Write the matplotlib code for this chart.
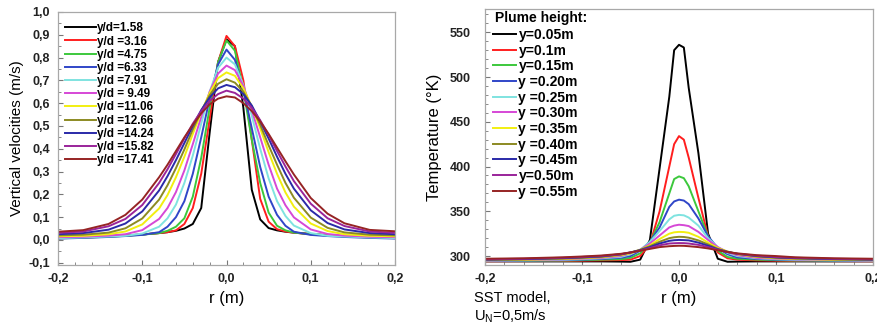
import matplotlib
matplotlib.use("Agg")
import matplotlib.pyplot as plt
from matplotlib.ticker import MultipleLocator, FuncFormatter

plt.rcParams['font.family'] = ['Liberation Sans', 'DejaVu Sans']
plt.rcParams['mathtext.default'] = 'regular'

# ---- left panel: vertical velocity profiles ----
r_vel = [-0.2, -0.17, -0.14, -0.12, -0.1, -0.08, -0.07, -0.06, -0.05, -0.04, -0.03, -0.02, -0.01, 0.0,
         0.01, 0.02, 0.03, 0.04, 0.05, 0.06, 0.07, 0.08, 0.1, 0.12, 0.14, 0.17, 0.2]
vel_labels = ["y/d=1.58", "y/d =3.16", "y/d =4.75", "y/d =6.33", "y/d =7.91", "y/d = 9.49",
              "y/d =11.06", "y/d =12.66", "y/d =14.24", "y/d =15.82", "y/d =17.41"]
vel_158 = [0.01, 0.013, 0.017, 0.02, 0.024, 0.03, 0.034, 0.04, 0.05, 0.07, 0.14, 0.47, 0.78, 0.88,
           0.85, 0.58, 0.22, 0.09, 0.052, 0.042, 0.036, 0.032, 0.026, 0.021, 0.017, 0.013, 0.01]
vel_316 = [0.008, 0.011, 0.015, 0.019, 0.024, 0.03, 0.034, 0.042, 0.07, 0.14, 0.29, 0.53, 0.78, 0.895,
           0.85, 0.70, 0.44, 0.18, 0.08, 0.047, 0.037, 0.032, 0.025, 0.02, 0.016, 0.012, 0.009]
vel_475 = [0.007, 0.01, 0.014, 0.018, 0.023, 0.03, 0.04, 0.058, 0.095, 0.19, 0.36, 0.58, 0.78, 0.875,
           0.83, 0.66, 0.44, 0.25, 0.12, 0.062, 0.042, 0.032, 0.025, 0.02, 0.016, 0.011, 0.008]
vel_633 = [0.006, 0.009, 0.013, 0.017, 0.022, 0.034, 0.058, 0.10, 0.17, 0.29, 0.45, 0.62, 0.77, 0.835,
           0.79, 0.66, 0.49, 0.32, 0.19, 0.11, 0.062, 0.036, 0.022, 0.017, 0.013, 0.009, 0.006]
vel_791 = [0.008, 0.011, 0.015, 0.018, 0.028, 0.058, 0.095, 0.155, 0.25, 0.37, 0.51, 0.65, 0.755, 0.80,
           0.77, 0.68, 0.545, 0.40, 0.27, 0.17, 0.105, 0.063, 0.03, 0.018, 0.015, 0.011, 0.008]
vel_949 = [0.012, 0.014, 0.019, 0.025, 0.043, 0.092, 0.14, 0.21, 0.305, 0.42, 0.54, 0.65, 0.73, 0.765,
           0.745, 0.675, 0.57, 0.45, 0.33, 0.225, 0.152, 0.099, 0.046, 0.026, 0.019, 0.014, 0.012]
vel_1106 = [0.016, 0.018, 0.025, 0.037, 0.068, 0.138, 0.197, 0.275, 0.365, 0.465, 0.56, 0.645, 0.71, 0.735,
            0.72, 0.665, 0.585, 0.49, 0.385, 0.29, 0.208, 0.146, 0.072, 0.039, 0.025, 0.018, 0.016]
vel_1266 = [0.02, 0.023, 0.032, 0.051, 0.094, 0.177, 0.24, 0.315, 0.397, 0.485, 0.565, 0.635, 0.685, 0.705,
            0.69, 0.65, 0.585, 0.505, 0.415, 0.33, 0.25, 0.185, 0.098, 0.053, 0.033, 0.023, 0.02]
vel_1424 = [0.025, 0.03, 0.045, 0.072, 0.125, 0.217, 0.28, 0.35, 0.425, 0.50, 0.57, 0.625, 0.665, 0.68,
            0.67, 0.64, 0.59, 0.52, 0.445, 0.365, 0.29, 0.225, 0.13, 0.074, 0.046, 0.03, 0.025]
vel_1582 = [0.031, 0.037, 0.06, 0.092, 0.153, 0.25, 0.31, 0.377, 0.445, 0.51, 0.565, 0.61, 0.64, 0.655,
            0.645, 0.62, 0.58, 0.525, 0.46, 0.39, 0.322, 0.258, 0.159, 0.095, 0.061, 0.037, 0.031]
vel_1741 = [0.036, 0.043, 0.07, 0.11, 0.177, 0.275, 0.33, 0.39, 0.45, 0.505, 0.555, 0.595, 0.62, 0.63,
            0.625, 0.60, 0.565, 0.52, 0.465, 0.405, 0.345, 0.287, 0.184, 0.115, 0.073, 0.044, 0.038]

# ---- right panel: temperature profiles ----
r_temp = [-0.2, -0.16, -0.12, -0.1, -0.08, -0.06, -0.05, -0.04, -0.03, -0.02, -0.01, -0.005, 0.0,
          0.005, 0.01, 0.02, 0.03, 0.04, 0.05, 0.06, 0.08, 0.1, 0.12, 0.16, 0.2]
temp_labels = ["y=0.05m", "y=0.1m", "y=0.15m", "y =0.20m", "y =0.25m", "y =0.30m",
               "y =0.35m", "y =0.40m", "y =0.45m", "y=0.50m", "y =0.55m"]
t_005 = [294, 294, 294, 294, 294, 293.8, 293.6, 296, 318, 398, 478, 530, 536,
         533, 488, 415, 325, 297, 293.6, 293.8, 294, 294, 294, 294, 294]
t_010 = [294.2, 294.3, 294.5, 294.8, 295.2, 295.5, 296, 300, 313, 350, 400, 425, 434,
         430, 410, 365, 322, 304, 297.5, 296, 295.2, 294.8, 294.5, 294.3, 294.2]
t_015 = [294.4, 294.6, 295, 295.4, 296, 296.5, 298, 303, 315, 338, 370, 386, 389,
         387, 378, 350, 322, 306, 299, 297, 296, 295.4, 295, 294.6, 294.4]
t_020 = [294.6, 294.9, 295.4, 296, 296.8, 298, 300, 306, 316, 332, 355, 361, 363,
         362, 358, 342, 322, 309, 302, 298.5, 296.8, 296, 295.4, 294.9, 294.6]
t_025 = [294.8, 295.2, 295.8, 296.5, 297.5, 299, 302, 307, 316, 328, 341, 345, 346,
         345.5, 343, 334, 320, 310, 303.5, 300, 297.5, 296.5, 295.8, 295.2, 294.8]
t_030 = [295, 295.5, 296.3, 297, 298, 300, 303, 307, 314, 323, 332, 334, 335,
         334.5, 333.5, 327, 318, 310, 304.5, 301, 298, 297, 296.3, 295.5, 295]
t_035 = [295.3, 295.8, 296.8, 297.5, 298.6, 301, 303, 307, 312, 319, 325, 326.5, 327,
         326.8, 326, 321.5, 315, 309, 305, 302, 299, 297.5, 296.8, 295.8, 295.3]
t_040 = [295.6, 296.2, 297.2, 298, 299.1, 301.5, 304, 307, 311, 316, 320, 321, 321.5,
         321.3, 320.5, 317.5, 313, 308, 305, 302.5, 299.5, 298, 297.2, 296.2, 295.6]
t_045 = [296, 296.6, 297.6, 298.5, 299.6, 302, 304, 306.5, 310, 314, 317, 317.7, 318,
         317.8, 317.5, 315, 311.5, 307.5, 304.5, 302.5, 300, 298.5, 297.6, 296.6, 296]
t_050 = [296.4, 297, 298.1, 299, 300.1, 302, 304, 306, 309, 312, 314, 314.3, 314.5,
         314.4, 314, 312.5, 310, 307, 304.5, 302.5, 300.5, 299, 298.1, 297, 296.4]
t_055 = [297, 297.5, 298.6, 299.5, 300.6, 302.5, 304, 306, 308, 310, 311, 311.3, 311.5,
         311.4, 311, 310, 308.5, 306.5, 304.5, 303, 301, 300, 298.6, 297.5, 297]

colors = ["#000000", "#ff1e1e", "#3cc83c", "#3046c8", "#7fe3e0", "#d648d6",
          "#f2ef10", "#8c8a22", "#2a2aa8", "#9a249a", "#962424"]

vel_series = [vel_158, vel_316, vel_475, vel_633, vel_791, vel_949,
              vel_1106, vel_1266, vel_1424, vel_1582, vel_1741]
temp_series = [t_005, t_010, t_015, t_020, t_025, t_030,
               t_035, t_040, t_045, t_050, t_055]

comma = FuncFormatter(lambda v, p: f"{v:.1f}".replace(".", ",").replace("-0,0", "0,0"))
frame_col = "#a8a8a8"


def style_axes(ax, ypad=6):
    for s in ax.spines.values():
        s.set_color(frame_col)
        s.set_linewidth(0.9)
    ax.tick_params(which="both", direction="in", color="#777777", labelsize=9)
    ax.tick_params(which="major", length=3.5, pad=6)
    ax.tick_params(axis="y", which="major", pad=ypad)
    ax.tick_params(which="minor", length=2)
    for lab in ax.get_xticklabels() + ax.get_yticklabels():
        lab.set_fontweight("bold")
        lab.set_color("#222222")


fig = plt.figure(figsize=(8.77, 3.35), dpi=100)

ax1 = fig.add_axes([58 / 877, 70 / 335, 337 / 877, 253 / 335])
for ys, c, lab in zip(vel_series, colors, vel_labels):
    ax1.plot(r_vel, ys, color=c, lw=1.4, label=lab)
ax1.set_xlim(-0.2, 0.2)
ax1.set_ylim(-0.11, 1.0)
ax1.xaxis.set_major_locator(MultipleLocator(0.1))
ax1.xaxis.set_minor_locator(MultipleLocator(0.02))
ax1.yaxis.set_major_locator(MultipleLocator(0.1))
ax1.yaxis.set_minor_locator(MultipleLocator(0.05))
ax1.xaxis.set_major_formatter(comma)
ax1.yaxis.set_major_formatter(comma)
ax1.set_xlabel("r (m)", fontsize=12, labelpad=4)
ax1.set_ylabel("Vertical velocities (m/s)", fontsize=11, labelpad=3)
style_axes(ax1)
ax1.legend(loc="upper left", bbox_to_anchor=(0.021, 0.959), frameon=False,
           borderpad=0, borderaxespad=0, handlelength=2.6, handletextpad=0.1,
           labelspacing=0.1, prop={"weight": "bold", "size": 8.5})

ax2 = fig.add_axes([485 / 877, 70 / 335, 388 / 877, 256 / 335])
for ys, c, lab in zip(temp_series, colors, temp_labels):
    ax2.plot(r_temp, ys, color=c, lw=1.4, label=lab)
ax2.set_xlim(-0.2, 0.2)
ax2.set_ylim(290, 576)
ax2.xaxis.set_major_locator(MultipleLocator(0.1))
ax2.xaxis.set_minor_locator(MultipleLocator(0.02))
ax2.yaxis.set_major_locator(MultipleLocator(50))
ax2.yaxis.set_minor_locator(MultipleLocator(10))
ax2.xaxis.set_major_formatter(comma)
ax2.set_xlabel("r (m)", fontsize=12, labelpad=4)
ax2.set_ylabel("Temperature (°K)", fontsize=12, labelpad=6)
style_axes(ax2, ypad=10)
ax2.text(0.026, 1 - 9 / 256, "Plume height:", transform=ax2.transAxes,
         fontsize=10, fontweight="bold", ha="left", va="center")
ax2.legend(loc="upper left", bbox_to_anchor=(0.02, 1 - 19 / 256), frameon=False,
           borderpad=0, borderaxespad=0, handlelength=1.7, handletextpad=0.15,
           labelspacing=0.12, prop={"weight": "bold", "size": 10})

fig.text(474 / 877, 1 - 308 / 335, "SST model,\nU$_N$=0,5m/s", fontsize=10.5,
         ha="left", va="center", linespacing=1.2)

fig.savefig("out.png", dpi=100)
